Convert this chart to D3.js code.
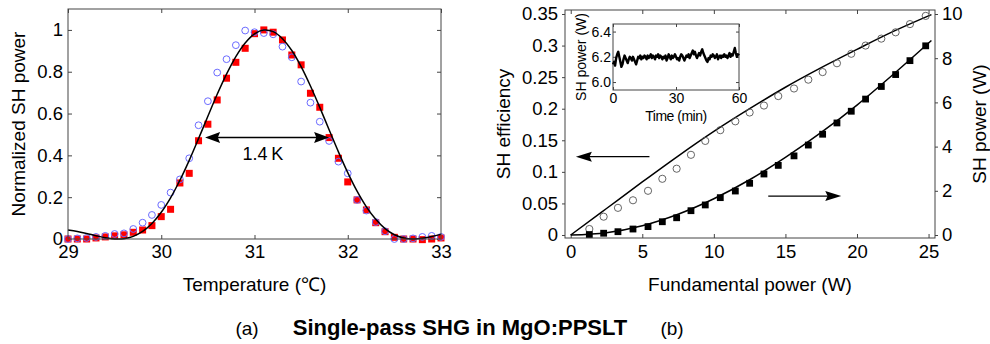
<!DOCTYPE html>
<html><head><meta charset="utf-8">
<script src="https://cdn.jsdelivr.net/npm/d3@7"></script>
<style>
html,body{margin:0;padding:0;background:#fff;}
svg{display:block;font-family:"Liberation Sans",Arial,Helvetica,sans-serif;}
</style></head><body>
<svg id="c" width="990" height="344"></svg>
<script>
// ---------- Panel (a): temperature tuning ----------
const tempX = [29.0,29.1,29.2,29.3,29.4,29.5,29.6,29.7,29.8,29.9,30.0,30.1,30.2,30.3,30.4,30.5,30.6,30.7,30.8,30.9,
               31.0,31.1,31.2,31.3,31.4,31.5,31.6,31.7,31.8,31.9,32.0,32.1,32.2,32.3,32.4,32.5,32.6,32.7,32.8,32.9,33.0];
const redSquares = [0,0,0,0.005,0.01,0.015,0.02,0.032,0.043,0.064,0.107,0.142,0.268,0.314,0.47,0.549,0.665,0.769,0.845,0.912,
                    0.982,1.0,0.989,0.952,0.88,0.833,0.697,0.63,0.485,0.386,0.273,0.187,0.139,0.078,0.035,0.008,0,0,-0.003,0,0.005];
const blueCircles = [0,0.003,0.005,0.01,0.015,0.024,0.027,0.048,0.078,0.115,0.163,0.222,0.285,0.386,0.544,0.659,0.796,0.86,0.927,0.997,
                     0.989,0.985,0.979,0.92,0.869,0.753,0.652,0.561,0.469,0.37,0.314,0.187,0.136,0.081,0.037,0,0,0.003,0.01,0.015,0.01];
const theoryCurve = [0.0433,0.0362,0.0265,0.0158,0.0062,0.0005,0.0017,0.0127,0.0361,0.0741,0.1277,0.1970,0.2808,0.3760,0.4799,0.5868,0.6920,0.7885,0.8725,0.9378,
                     0.9815,0.9995,0.9916,0.9581,0.9014,0.8245,0.7319,0.6296,0.5226,0.4169,0.3175,0.2287,0.1537,0.0941,0.0496,0.0204,0.0048,0.0000,0.0033,0.0117,0.0222];
const tempTicks = [29,30,31,32,33];
const normTicks = [0,0.2,0.4,0.6,0.8,1];
const fwhmArrow = {x1:30.47, x2:31.80, y:0.485, label:"1.4\u2009K", lx:31.09, ly:0.405};

// ---------- Panel (b): power scaling ----------
const fundPower = [1.3,2.3,3.3,4.35,5.4,6.4,7.4,8.4,9.4,10.45,11.5,12.5,13.5,14.5,15.6,16.6,17.6,18.6,19.6,20.6,21.7,22.7,23.7,24.8];
const efficiency = [0.0095,0.029,0.043,0.055,0.070,0.089,0.105,0.127,0.149,0.166,0.180,0.194,0.205,0.220,0.232,0.246,0.258,0.272,0.287,0.300,0.311,0.321,0.334,0.347];
const shPower = [0.02,0.08,0.15,0.27,0.38,0.60,0.78,1.10,1.36,1.69,1.99,2.34,2.76,3.15,3.58,4.07,4.56,5.07,5.60,6.15,6.72,7.26,7.89,8.56];
const fitX = [0,2.5,5,7.5,10,12.5,15,17.5,20,22.5,25.2];
const fitEff = [0,0.042,0.084,0.125,0.164,0.200,0.234,0.265,0.294,0.322,0.349];
const fitPow = [0,0.105,0.42,0.94,1.64,2.50,3.51,4.64,5.88,7.25,8.80];
const powTicksX = [0,5,10,15,20,25];
const effTicks = [0,0.05,0.1,0.15,0.2,0.25,0.3,0.35];
const effTickLabels = ["0","0.05","0.1","0.15","0.2","0.25","0.3","0.35"];
const shTicks = [0,2,4,6,8,10];
const leftArrow = {x1:5.5, x2:0.36, y:0.124};     // efficiency axis
const rightArrow = {x1:13.8, x2:18.9, y:1.76};    // SH power axis

// ---------- Inset: stability ----------
const timeMin = d3.range(121).map(i => i*0.5);
const stability = [6.14,6.16,6.13,6.19,6.22,6.24,6.20,6.16,6.12,6.14,6.18,6.21,6.19,6.17,6.15,6.18,6.20,6.19,6.17,6.20,
  6.18,6.16,6.14,6.17,6.20,6.19,6.21,6.18,6.20,6.19,6.21,6.20,6.18,6.21,6.19,6.20,6.22,6.19,6.21,6.20,
  6.18,6.21,6.20,6.22,6.19,6.21,6.20,6.18,6.20,6.19,6.21,6.17,6.19,6.22,6.20,6.18,6.21,6.19,6.20,6.22,
  6.20,6.18,6.19,6.17,6.20,6.22,6.21,6.19,6.17,6.19,6.21,6.20,6.22,6.19,6.21,6.23,6.25,6.22,6.24,6.21,
  6.19,6.21,6.23,6.21,6.24,6.26,6.23,6.21,6.19,6.17,6.16,6.19,6.18,6.21,6.20,6.22,6.21,6.19,6.20,6.22,
  6.18,6.20,6.21,6.19,6.21,6.20,6.22,6.20,6.21,6.19,6.21,6.23,6.20,6.22,6.21,6.24,6.27,6.23,6.20,6.22,6.21];
const insetXTicks = [0,30,60];
const insetYTicks = [6.0,6.2,6.4];

// ---------- drawing ----------
const svg = d3.select("#c");
const FRAME = "#444";
const TICKFONT = 18.5;

function styleAxis(g, fs){
  g.select(".domain").remove();
  g.selectAll(".tick line").attr("stroke", FRAME).attr("stroke-width",1);
  g.selectAll(".tick text").attr("fill","#000").attr("font-size", fs+"px")
   .attr("font-family",'"Liberation Sans",Arial,sans-serif');
  g.attr("font-family",null).attr("font-size",null);
}
function frame(g, x, y, fill){
  const [x0,x1] = x.range(); const [y0,y1] = y.range();
  g.append("rect").attr("x",Math.min(x0,x1)).attr("y",Math.min(y0,y1))
   .attr("width",Math.abs(x1-x0)).attr("height",Math.abs(y1-y0))
   .attr("fill",fill||"none").attr("stroke",FRAME).attr("stroke-width",1);
}
function arrowHead(g, tipX, tipY, dir, len, half){
  g.append("path")
   .attr("d",`M${tipX},${tipY}L${tipX-dir*len},${tipY-half}L${tipX-dir*len*0.85},${tipY}L${tipX-dir*len},${tipY+half}Z`)
   .attr("fill","#000");
}

// ===== Panel (a) =====
const xA = d3.scaleLinear().domain([29,33]).range([68,441]);
const yA = d3.scaleLinear().domain([0,1.1]).range([239,9]);
const gA = svg.append("g");
gA.append("rect").attr("x",68).attr("y",9).attr("width",373).attr("height",230).attr("fill","#fff");

gA.append("g").attr("transform",`translate(0,${yA(0)})`)
  .call(d3.axisBottom(xA).tickValues(tempTicks).tickSize(-4).tickPadding(6).tickFormat(d3.format("d")))
  .call(g=>styleAxis(g,TICKFONT));
gA.append("g").attr("transform",`translate(0,${yA(1.1)})`)
  .call(d3.axisTop(xA).tickValues(tempTicks).tickSize(-4).tickFormat(""))
  .call(g=>styleAxis(g,TICKFONT));
gA.append("g").attr("transform",`translate(${xA(29)},0)`)
  .call(d3.axisLeft(yA).tickValues(normTicks).tickSize(-4).tickPadding(5).tickFormat(d=>String(d)))
  .call(g=>styleAxis(g,TICKFONT));
gA.append("g").attr("transform",`translate(${xA(33)},0)`)
  .call(d3.axisRight(yA).tickValues(normTicks).tickSize(-4).tickFormat(""))
  .call(g=>styleAxis(g,TICKFONT));

const sq = 7;
gA.append("g").selectAll("rect").data(tempX).join("rect")
  .attr("x",(d,i)=>xA(d)-sq/2).attr("y",(d,i)=>yA(redSquares[i])-sq/2)
  .attr("width",sq).attr("height",sq).attr("fill","#ff0000");
gA.append("g").selectAll("circle").data(tempX).join("circle")
  .attr("cx",d=>xA(d)).attr("cy",(d,i)=>yA(blueCircles[i])).attr("r",3.4)
  .attr("fill","none").attr("stroke","#6b6bff").attr("stroke-width",1);
gA.append("path").datum(tempX.map((d,i)=>[d,theoryCurve[i]]))
  .attr("d",d3.line().x(d=>xA(d[0])).y(d=>yA(d[1])).curve(d3.curveCatmullRom))
  .attr("fill","none").attr("stroke","#000").attr("stroke-width",1.5);
frame(gA,xA,yA);

// FWHM arrow
gA.append("line").attr("x1",xA(fwhmArrow.x1)+6).attr("x2",xA(fwhmArrow.x2)-6)
  .attr("y1",yA(fwhmArrow.y)).attr("y2",yA(fwhmArrow.y)).attr("stroke","#000").attr("stroke-width",1.5);
arrowHead(gA,xA(fwhmArrow.x1),yA(fwhmArrow.y),-1,15,5.5);
arrowHead(gA,xA(fwhmArrow.x2),yA(fwhmArrow.y),1,15,5.5);
gA.append("text").attr("x",xA(fwhmArrow.lx)).attr("y",yA(fwhmArrow.ly))
  .attr("text-anchor","middle").attr("dominant-baseline","central").attr("font-size","18px").text(fwhmArrow.label);

gA.append("text").attr("transform",`translate(25,${(yA(0)+yA(1.1))/2}) rotate(-90)`)
  .attr("text-anchor","middle").attr("font-size","19px").text("Normalized SH power");
gA.append("text").attr("x",(xA(29)+xA(33))/2).attr("y",291)
  .attr("text-anchor","middle").attr("font-size","19px").text("Temperature (\u2103)");

// ===== Panel (b) =====
const xB = d3.scaleLinear().domain([-0.4,25.45]).range([565,935]);
const yBL = d3.scaleLinear().domain([-3/631.4, 0.35+4/631.4]).range([238,10]);
const yBR = d3.scaleLinear().domain([-3/22.1, 10+4/22.1]).range([238,10]);
const gB = svg.append("g");

gB.append("g").attr("transform",`translate(0,238)`)
  .call(d3.axisBottom(xB).tickValues(powTicksX).tickSize(-4).tickPadding(7).tickFormat(d3.format("d")))
  .call(g=>styleAxis(g,TICKFONT));
gB.append("g").attr("transform",`translate(0,10)`)
  .call(d3.axisTop(xB).tickValues(powTicksX).tickSize(-4).tickFormat(""))
  .call(g=>styleAxis(g,TICKFONT));
gB.append("g").attr("transform",`translate(565,0)`)
  .call(d3.axisLeft(yBL).tickValues(effTicks).tickSize(3).tickPadding(4).tickFormat((d,i)=>effTickLabels[i]))
  .call(g=>styleAxis(g,TICKFONT));
gB.append("g").attr("transform",`translate(935,0)`)
  .call(d3.axisRight(yBR).tickValues(shTicks).tickSize(3).tickPadding(4).tickFormat(d3.format("d")))
  .call(g=>styleAxis(g,TICKFONT));

gB.append("path").datum(fitX.map((d,i)=>[d,fitEff[i]]))
  .attr("d",d3.line().x(d=>xB(d[0])).y(d=>yBL(d[1])).curve(d3.curveMonotoneX))
  .attr("fill","none").attr("stroke","#000").attr("stroke-width",1.5);
gB.append("path").datum(fitX.map((d,i)=>[d,fitPow[i]]))
  .attr("d",d3.line().x(d=>xB(d[0])).y(d=>yBR(d[1])).curve(d3.curveMonotoneX))
  .attr("fill","none").attr("stroke","#000").attr("stroke-width",1.5);
gB.append("g").selectAll("circle").data(fundPower).join("circle")
  .attr("cx",d=>xB(d)).attr("cy",(d,i)=>yBL(efficiency[i])).attr("r",3.6)
  .attr("fill","none").attr("stroke","#555").attr("stroke-width",0.9);
gB.append("g").selectAll("rect").data(fundPower).join("rect")
  .attr("x",d=>xB(d)-3.4).attr("y",(d,i)=>yBR(shPower[i])-3.4)
  .attr("width",6.8).attr("height",6.8).attr("fill","#000");
frame(gB,xB,yBL);

// arrows
gB.append("line").attr("x1",xB(leftArrow.x1)).attr("x2",xB(leftArrow.x2)+8)
  .attr("y1",yBL(leftArrow.y)).attr("y2",yBL(leftArrow.y)).attr("stroke","#000").attr("stroke-width",1.3);
arrowHead(gB,xB(leftArrow.x2),yBL(leftArrow.y),-1,16,5);
gB.append("line").attr("x1",xB(rightArrow.x1)).attr("x2",xB(rightArrow.x2)-8)
  .attr("y1",yBR(rightArrow.y)).attr("y2",yBR(rightArrow.y)).attr("stroke","#000").attr("stroke-width",1.3);
arrowHead(gB,xB(rightArrow.x2),yBR(rightArrow.y),1,16,5);

gB.append("text").attr("transform",`translate(510,124) rotate(-90)`)
  .attr("text-anchor","middle").attr("font-size","19px").text("SH efficiency");
gB.append("text").attr("transform",`translate(986,124) rotate(-90)`)
  .attr("text-anchor","middle").attr("font-size","19px").text("SH power (W)");
gB.append("text").attr("x",750).attr("y",291)
  .attr("text-anchor","middle").attr("font-size","19px").text("Fundamental power (W)");

// ===== Inset =====
const xI = d3.scaleLinear().domain([0,60]).range([613,739]);
const yI = d3.scaleLinear().domain([5.937,6.46]).range([90,24]);
const gI = svg.append("g");
frame(gI,xI,yI,"#fff");
gI.append("g").attr("transform",`translate(0,90)`)
  .call(d3.axisBottom(xI).tickValues(insetXTicks).tickSize(-3).tickPadding(3).tickFormat(d3.format("d")))
  .call(g=>styleAxis(g,14));
gI.append("g").attr("transform",`translate(0,24)`)
  .call(d3.axisTop(xI).tickValues(insetXTicks).tickSize(-3).tickFormat(""))
  .call(g=>styleAxis(g,14));
gI.append("g").attr("transform",`translate(613,0)`)
  .call(d3.axisLeft(yI).tickValues(insetYTicks).tickSize(-3).tickPadding(2).tickFormat(d3.format(".1f")))
  .call(g=>styleAxis(g,14));
gI.append("g").attr("transform",`translate(739,0)`)
  .call(d3.axisRight(yI).tickValues(insetYTicks).tickSize(-3).tickFormat(""))
  .call(g=>styleAxis(g,14));
gI.append("path").datum(timeMin.map((d,i)=>[d,stability[i]]))
  .attr("d",d3.line().x(d=>xI(d[0])).y(d=>yI(d[1])))
  .attr("fill","none").attr("stroke","#000").attr("stroke-width",2.4).attr("stroke-linejoin","round");
gI.append("text").attr("transform",`translate(585.5,57) rotate(-90)`)
  .attr("text-anchor","middle").attr("font-size","14px").text("SH power (W)");
gI.append("text").attr("x",676).attr("y",121)
  .attr("text-anchor","middle").attr("font-size","14px").attr("letter-spacing","-0.5px").text("Time (min)");

// ===== Captions =====
svg.append("text").attr("x",247).attr("y",335).attr("text-anchor","middle").attr("font-size","19px").text("(a)");
svg.append("text").attr("x",460).attr("y",335).attr("text-anchor","middle").attr("font-size","22px")
  .attr("font-weight","bold").text("Single-pass SHG in MgO:PPSLT");
svg.append("text").attr("x",672).attr("y",335).attr("text-anchor","middle").attr("font-size","19px").text("(b)");
</script>
</body></html>
